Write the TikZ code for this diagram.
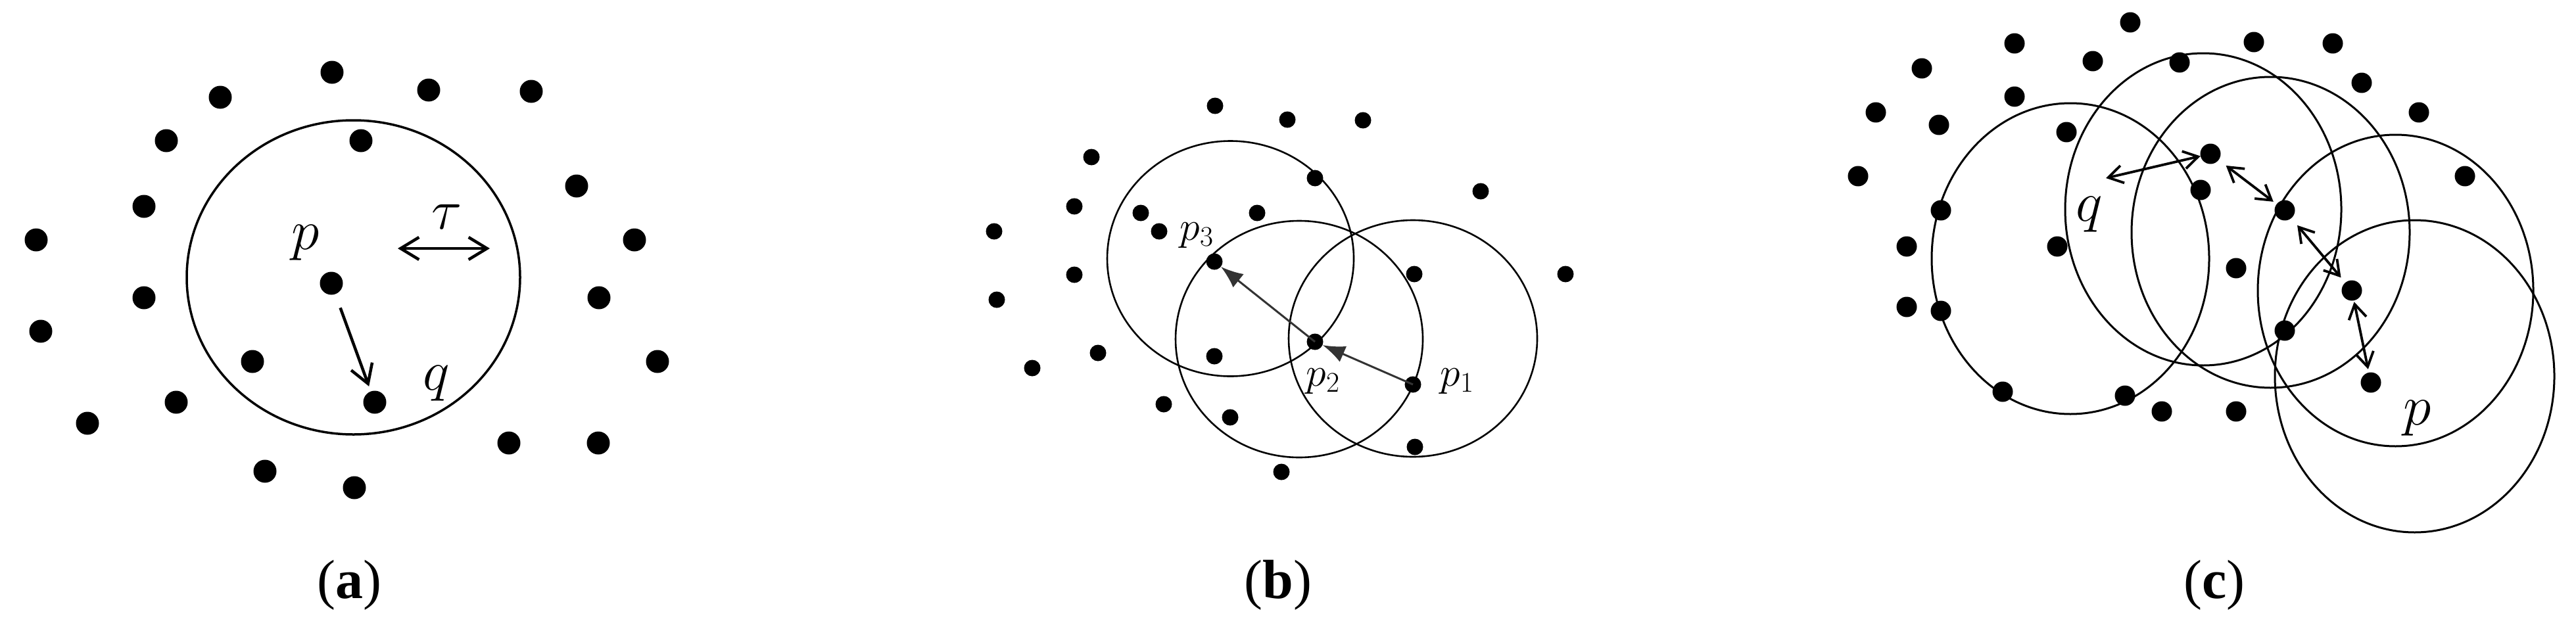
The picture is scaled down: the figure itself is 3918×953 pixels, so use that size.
\RequirePackage{fix-cm}
\documentclass[tikz,border=0pt]{standalone}
\usepackage{fontspec}
\newfontfamily\capfont{Liberation Serif}
\usetikzlibrary{arrows.meta}
\begin{document}
\begin{tikzpicture}[x=1pt,y=-1pt,
  dota/.style={circle,fill=black,inner sep=0pt,minimum size=35pt},
  dotb/.style={circle,fill=black,inner sep=0pt,minimum size=25pt},
  dotc/.style={circle,fill=black,inner sep=0pt,minimum size=31pt},
  ringa/.style={line width=3.5pt},
  ringb/.style={line width=2.6pt},
  ringc/.style={line width=3pt},
  arra/.style={line width=4.5pt,>={Straight Barb[length=28pt,width=34pt]}},
  arrb/.style={line width=3pt,draw=black!80,>={Latex[length=34pt,width=26pt]}},
  arrc/.style={line width=3.8pt,>={Straight Barb[length=22pt,width=27pt]}},
  biglbl/.style={inner sep=0pt,font=\fontsize{86}{100}\selectfont},
  midlbl/.style={inner sep=0pt,font=\fontsize{62}{74}\selectfont},
  caplbl/.style={inner sep=0pt,font=\capfont\fontsize{84}{100}\selectfont}
]
\useasboundingbox (0,0) rectangle (3918,953);

% ---------------- panel (a)
\draw[ringa] (537.5,422) ellipse [x radius=253.5, y radius=239];
\foreach \n/\x/\y in {a1/505/110,a2/652/137,a3/808/139,a4/335/148,a5/253/214,
  a6/549/214,a7/877/283,a8/219/314,a9/55/365,a10/965/365,a11/504/431,
  a12/219/453,a13/911/453,a14/62/504,a15/1000/550,a16/384/550,a17/268/612,
  a18/570/612,a19/133/644,a20/774/674,a21/910/674,a22/403/717,a23/539/742}
  \node[dota] (\n) at (\x,\y) {};
\node[biglbl] (lpa) at (465,369) {$p$};
\node[biglbl] (ltau) at (680,330) {$\tau$};
\node[biglbl] (lqa) at (664,583) {$q$};
\coordinate (tauL) at (605,378);
\coordinate (tauR) at (745,378);
\draw[arra,<->] (tauL) -- (tauR);
\draw[arra,->,shorten <=22pt,shorten >=8pt] (a11) -- (a18);

% ---------------- panel (b)
\draw[ringb] (1871.5,393.5) ellipse [x radius=187.5, y radius=179];
\draw[ringb] (1976,516) ellipse [x radius=188, y radius=180];
\draw[ringb] (2149,515) ellipse [x radius=189, y radius=180];
\foreach \n/\x/\y in {b1/1848/161,b2/1958/182,b3/2073/183,b4/1660/239,
  b5/2000/271,b6/2252/291,b7/1634/314,b8/1735/324,b9/1912/324,b10/1512/352,
  b11/1763/352,b12/1847/398,b13/1634/418,b14/2151/417,b15/2381/417,
  b16/1516/456,b17/2000/520,b18/1670/537,b19/1847/542,b20/1570/560,
  b21/2149/585,b22/1770/615,b23/1871/635,b24/2152/680,b25/1949/718}
  \node[dotb] (\n) at (\x,\y) {};
\node[midlbl] (lp3) at (1820,358) {$p_3$};
\node[midlbl] (lp2) at (2012,580) {$p_2$};
\node[midlbl] (lp1) at (2216,580) {$p_1$};
\draw[arrb,->] (b21.center) -- (b17);
\draw[arrb,->] (b17.center) -- (b12);

% ---------------- panel (c)
\draw[ringc] (3149,393.5) ellipse [x radius=211, y radius=236.5];
\draw[ringc] (3351,318.5) ellipse [x radius=210, y radius=237.5];
\draw[ringc] (3453.5,353.5) ellipse [x radius=211.5, y radius=236.5];
\draw[ringc] (3643.5,442) ellipse [x radius=209.5, y radius=237];
\draw[ringc] (3672.5,572.5) ellipse [x radius=212.5, y radius=237.5];
\foreach \n/\x/\y in {c1/3240/34,c2/3064/66,c3/3428/64,c4/3548/66,c5/3183/93,
  c6/3315/95,c7/2923/104,c8/3592/126,c9/3064/147,c10/2853/171,c11/3679/171,
  c12/2949/190,c13/3143/201,c14/3362/234,c15/2826/268,c16/3749/268,
  c17/3347/289,c18/3475/320,c19/2952/320,c20/2900/375,c21/3129/375,
  c22/3401/408,c23/3577/442,c24/2900/467,c25/2952/473,c26/3475/503,
  c27/3606/582,c28/3046/596,c29/3232/602,c30/3288/626,c31/3401/626}
  \node[dotc] (\n) at (\x,\y) {};
\node[biglbl] (lqc) at (3178,326) {$q$};
\node[biglbl] (lpc) at (3677,636) {$p$};
\coordinate (qL) at (3203,271);
\draw[arrc,<->] (qL) -- (c14);
\draw[arrc,<->,shorten <=14pt,shorten >=6pt] (c14) -- (c18);
\draw[arrc,<->,shorten <=14pt,shorten >=10pt] (c18) -- (c23);
\draw[arrc,<->,shorten <=2pt,shorten >=5pt] (c23) -- (c27);

% ---------------- captions
\node[caplbl] (capa) at (531,890) {(\textbf{a})};
\node[caplbl] (capb) at (1944,890) {(\textbf{b})};
\node[caplbl] (capc) at (3368,890) {(\textbf{c})};
\end{tikzpicture}
\end{document}
